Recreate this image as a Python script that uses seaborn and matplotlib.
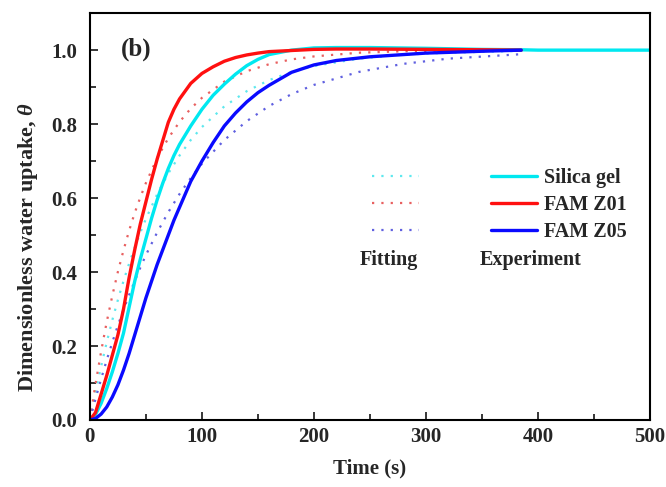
import numpy as np
import pandas as pd
import matplotlib
matplotlib.use("Agg")
import matplotlib.pyplot as plt
import seaborn as sns
from matplotlib.ticker import MultipleLocator

# ---- data ----
t_exp = [0, 5, 10, 15, 20, 25, 30, 35, 40, 45, 50, 55, 60, 65, 70, 75, 80, 90, 100,
         110, 120, 130, 140, 150, 160, 180, 200, 220, 250, 300, 350, 385]
exp_z01 = [0, 0.02, 0.07, 0.12, 0.175, 0.23, 0.30, 0.385, 0.46, 0.53, 0.59, 0.65, 0.705,
           0.755, 0.805, 0.84, 0.868, 0.91, 0.937, 0.955, 0.97, 0.98, 0.987, 0.992,
           0.996, 0.999, 1.002, 1.003, 1.003, 1.002, 1.001, 1.0]
exp_z05 = [0, 0.004, 0.016, 0.035, 0.062, 0.095, 0.135, 0.18, 0.23, 0.28, 0.33, 0.375,
           0.42, 0.46, 0.50, 0.54, 0.575, 0.645, 0.70, 0.75, 0.795, 0.83, 0.86, 0.885,
           0.905, 0.94, 0.96, 0.972, 0.982, 0.992, 0.997, 1.0]
t_exp_sg = t_exp + [400, 450, 500]
exp_sg = [0, 0.015, 0.045, 0.085, 0.13, 0.18, 0.235, 0.305, 0.375, 0.435, 0.49, 0.545,
          0.595, 0.64, 0.68, 0.715, 0.745, 0.795, 0.84, 0.878, 0.908, 0.935, 0.958,
          0.975, 0.988, 1.0, 1.006, 1.007, 1.007, 1.005, 1.002, 1.001, 1.0, 1.0, 1.0]

t_fit = [0, 5, 10, 15, 20, 25, 30, 35, 40, 45, 50, 60, 70, 80, 90, 100, 120, 140, 160,
         180, 200, 240, 280, 320, 385]
fit_z01 = [0, 0.097, 0.185, 0.265, 0.336, 0.401, 0.459, 0.512, 0.560, 0.602, 0.641,
           0.708, 0.762, 0.806, 0.842, 0.871, 0.915, 0.943, 0.962, 0.975, 0.983,
           0.993, 0.997, 0.999, 1.0]
fit_sg = [0, 0.076, 0.145, 0.210, 0.270, 0.325, 0.376, 0.423, 0.466, 0.507, 0.544,
          0.610, 0.667, 0.715, 0.757, 0.792, 0.848, 0.889, 0.919, 0.941, 0.957,
          0.977, 0.988, 0.993, 0.998]
fit_z05 = [0, 0.057, 0.111, 0.162, 0.210, 0.256, 0.298, 0.338, 0.376, 0.412, 0.446,
           0.507, 0.562, 0.611, 0.654, 0.693, 0.757, 0.808, 0.849, 0.881, 0.906,
           0.941, 0.963, 0.977, 0.989]

labels = ["Silica gel", "FAM Z01", "FAM Z05"]
colors = {"Silica gel": "#00e8f0", "FAM Z01": "#ff1010", "FAM Z05": "#0a0aff"}
fit_colors = {"Silica gel": "#5ee8ee", "FAM Z01": "#e86060", "FAM Z05": "#6060e0"}

sns.set_style("ticks")
plt.rcParams["font.family"] = ["Liberation Serif", "DejaVu Serif"]
plt.rcParams["font.weight"] = "bold"
plt.rcParams["mathtext.fontset"] = "custom"
plt.rcParams["mathtext.it"] = "Liberation Serif:italic:bold"
plt.rcParams["mathtext.rm"] = "Liberation Serif:bold"

fig = plt.figure(figsize=(6.66, 4.87), dpi=100)
ax = fig.add_axes([0.135, 0.1376, 0.841, 0.8354])

dot = (0, (1, 3.2))
fits = {"Silica gel": fit_sg, "FAM Z01": fit_z01, "FAM Z05": fit_z05}
fit_handles = []
for lab in labels:
    df = pd.DataFrame({"t": t_fit, "v": fits[lab]})
    sns.lineplot(data=df, x="t", y="v", ax=ax, color=fit_colors[lab], lw=1.6,
                 linestyle=dot, legend=False)
    fit_handles.append(ax.get_lines()[-1])

exps = {"Silica gel": (t_exp_sg, exp_sg), "FAM Z01": (t_exp, exp_z01),
        "FAM Z05": (t_exp, exp_z05)}
exp_handles = {}
for lab in labels:
    tt, vv = exps[lab]
    df = pd.DataFrame({"t": tt, "v": vv})
    sns.lineplot(data=df, x="t", y="v", ax=ax, color=colors[lab], lw=2.4,
                 legend=False)
    exp_handles[lab] = ax.get_lines()[-1]

ax.set_xlim(0, 500)
ax.set_ylim(0, 1.1)
ax.xaxis.set_major_locator(MultipleLocator(100))
ax.xaxis.set_minor_locator(MultipleLocator(50))
ax.set_yticks([0, 0.2, 0.4, 0.6, 0.8, 1.0])
ax.yaxis.set_minor_locator(MultipleLocator(0.1))
ax.tick_params(axis="both", which="both", direction="in", top=False, right=False,
               labelsize=15, width=1.3)
ax.tick_params(which="major", length=6)
ax.tick_params(which="minor", length=4)
ax.tick_params(axis="y", which="major", pad=9)
ax.tick_params(axis="x", which="major", pad=5)
for lbl in ax.get_xticklabels() + ax.get_yticklabels():
    lbl.set_fontweight("bold")
for s in ax.spines.values():
    s.set_linewidth(1.5)
    s.set_color("black")
    s.set_visible(True)

ax.set_xlabel("Time (s)", fontsize=15, fontweight="bold", labelpad=8)
ax.set_ylabel(r"Dimensionless water uptake, $\mathit{\theta}$", fontsize=16,
              fontweight="bold")
ax.yaxis.set_label_coords(-0.09, 0.425)

ax.text(0.055, 0.91, "(b)", transform=ax.transAxes, fontsize=18,
        fontweight="bold", va="center", ha="left")

handles = fit_handles + [exp_handles[l] for l in labels]
leg_labels = ["", "", ""] + labels
leg = ax.legend(handles, leg_labels, ncol=2, frameon=False,
                loc="upper left", bbox_to_anchor=(0.504, 0.62),
                borderpad=0, borderaxespad=0,
                handlelength=2.3, handletextpad=0.35, columnspacing=3.25,
                labelspacing=0.36, prop={"weight": "bold", "size": 14.5})
ax.text(0.482, 0.393, "Fitting", transform=ax.transAxes, fontsize=14.5,
        fontweight="bold", va="center", ha="left")
ax.text(0.696, 0.393, "Experiment", transform=ax.transAxes, fontsize=14.5,
        fontweight="bold", va="center", ha="left")

fig.savefig("out.png", dpi=100)
